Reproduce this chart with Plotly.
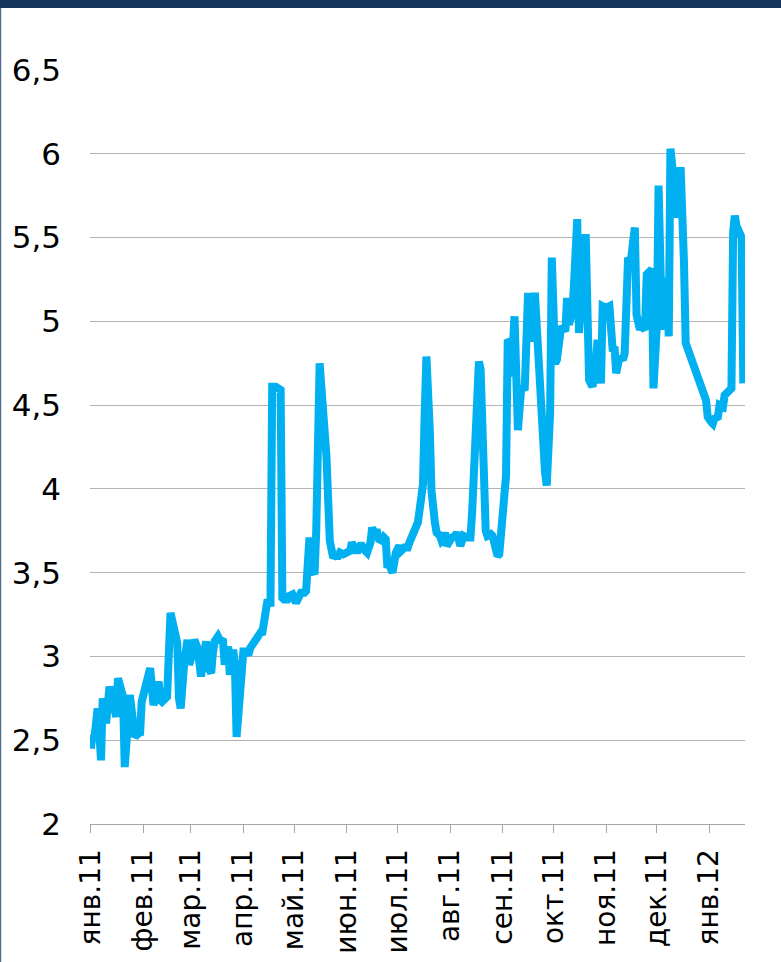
import plotly.graph_objects as go

# daily series, Jan 2011 - Jan 2012
dates = [
    "2011-01-01", "2011-01-02", "2011-01-03", "2011-01-05", "2011-01-06", "2011-01-07", "2011-01-08",
    "2011-01-09", "2011-01-10", "2011-01-12", "2011-01-14", "2011-01-15", "2011-01-16", "2011-01-17",
    "2011-01-19", "2011-01-20", "2011-01-21", "2011-01-23", "2011-01-24", "2011-01-26", "2011-01-27",
    "2011-01-29", "2011-01-30", "2011-01-31", "2011-02-02", "2011-02-05", "2011-02-07", "2011-02-08",
    "2011-02-10", "2011-02-11", "2011-02-12", "2011-02-14", "2011-02-15", "2011-02-17", "2011-02-19",
    "2011-02-21", "2011-02-22", "2011-02-23", "2011-02-25", "2011-02-27", "2011-02-28", "2011-03-02",
    "2011-03-03", "2011-03-05", "2011-03-07", "2011-03-09", "2011-03-10", "2011-03-12", "2011-03-13",
    "2011-03-14", "2011-03-15", "2011-03-17", "2011-03-18", "2011-03-20", "2011-03-21", "2011-03-23",
    "2011-03-24", "2011-03-26", "2011-03-27", "2011-03-28", "2011-03-30", "2011-04-01", "2011-04-02",
    "2011-04-04", "2011-04-05", "2011-04-07", "2011-04-08", "2011-04-10", "2011-04-11", "2011-04-12",
    "2011-04-14", "2011-04-15", "2011-04-17", "2011-04-18", "2011-04-20", "2011-04-21", "2011-04-22",
    "2011-04-23", "2011-04-24", "2011-04-25", "2011-04-27", "2011-04-28", "2011-04-30", "2011-05-02",
    "2011-05-04", "2011-05-05", "2011-05-07", "2011-05-08", "2011-05-10", "2011-05-11", "2011-05-13",
    "2011-05-14", "2011-05-16", "2011-05-20", "2011-05-22", "2011-05-24", "2011-05-25", "2011-05-27",
    "2011-05-28", "2011-05-30", "2011-06-01", "2011-06-03", "2011-06-04", "2011-06-06", "2011-06-07",
    "2011-06-09", "2011-06-10", "2011-06-12", "2011-06-13", "2011-06-15", "2011-06-16", "2011-06-17",
    "2011-06-19", "2011-06-20", "2011-06-22", "2011-06-23", "2011-06-24", "2011-06-25", "2011-06-26",
    "2011-06-28", "2011-06-29", "2011-06-30", "2011-07-02", "2011-07-03", "2011-07-05", "2011-07-07",
    "2011-07-08", "2011-07-10", "2011-07-11", "2011-07-13", "2011-07-15", "2011-07-16", "2011-07-17",
    "2011-07-18", "2011-07-20", "2011-07-21", "2011-07-23", "2011-07-24", "2011-07-26", "2011-07-27",
    "2011-07-28", "2011-07-29", "2011-07-30", "2011-08-01", "2011-08-02", "2011-08-04", "2011-08-05",
    "2011-08-07", "2011-08-08", "2011-08-09", "2011-08-11", "2011-08-12", "2011-08-13", "2011-08-14",
    "2011-08-16", "2011-08-17", "2011-08-18", "2011-08-19", "2011-08-21", "2011-08-22", "2011-08-23",
    "2011-08-25", "2011-08-26", "2011-08-28", "2011-08-29", "2011-08-30", "2011-08-31", "2011-09-01",
    "2011-09-03", "2011-09-04", "2011-09-05", "2011-09-06", "2011-09-08", "2011-09-10", "2011-09-11",
    "2011-09-12", "2011-09-14", "2011-09-16", "2011-09-17", "2011-09-18", "2011-09-20", "2011-09-21",
    "2011-09-23", "2011-09-24", "2011-09-26", "2011-09-27", "2011-09-28", "2011-09-29", "2011-09-30",
    "2011-10-02", "2011-10-03", "2011-10-05", "2011-10-06", "2011-10-08", "2011-10-09", "2011-10-10",
    "2011-10-12", "2011-10-13", "2011-10-15", "2011-10-16", "2011-10-18", "2011-10-20", "2011-10-22",
    "2011-10-24", "2011-10-26", "2011-10-27", "2011-10-29", "2011-10-30", "2011-11-01", "2011-11-03",
    "2011-11-05", "2011-11-06", "2011-11-07", "2011-11-09", "2011-11-11", "2011-11-12", "2011-11-14",
    "2011-11-15", "2011-11-16", "2011-11-18", "2011-11-19", "2011-11-21", "2011-11-22", "2011-11-24",
    "2011-11-25", "2011-11-27", "2011-11-28", "2011-11-29", "2011-11-30", "2011-12-01", "2011-12-02",
    "2011-12-04", "2011-12-05", "2011-12-07", "2011-12-08", "2011-12-09", "2011-12-11", "2011-12-13",
    "2011-12-14", "2011-12-15", "2011-12-17", "2011-12-18", "2011-12-30", "2011-12-31", "2012-01-02",
    "2012-01-03", "2012-01-04", "2012-01-06", "2012-01-07", "2012-01-09", "2012-01-10", "2012-01-12",
    "2012-01-14", "2012-01-15", "2012-01-16", "2012-01-17", "2012-01-19", "2012-01-20", "2012-01-21",
]

values = [
    2.45, 2.53, 2.50, 2.69, 2.55, 2.38, 2.75,
    2.62, 2.60, 2.82, 2.72, 2.66, 2.64, 2.87,
    2.80, 2.76, 2.34, 2.72, 2.77, 2.60, 2.52,
    2.54, 2.53, 2.73, 2.82, 2.93, 2.71, 2.76,
    2.85, 2.74, 2.73, 2.75, 2.76, 3.26, 3.15,
    3.08, 2.75, 2.69, 2.95, 3.10, 2.95, 3.02,
    3.10, 3.05, 2.88, 3.05, 3.09, 2.92, 2.90,
    3.02, 3.09, 3.12, 3.10, 3.09, 2.95, 3.06,
    2.89, 3.04, 2.95, 2.52, 2.85, 3.03, 3.03,
    3.01, 3.05, 3.08, 3.11, 3.12, 3.14, 3.13,
    3.24, 3.32, 3.32, 4.61, 4.61, 4.60, 4.59,
    4.59, 3.35, 3.34, 3.34, 3.36, 3.37, 3.32,
    3.36, 3.38, 3.38, 3.39, 3.71, 3.53, 3.49,
    3.75, 4.75, 4.20, 3.69, 3.59, 3.60, 3.60,
    3.62, 3.61, 3.62, 3.63, 3.68, 3.62, 3.62,
    3.66, 3.66, 3.63, 3.62, 3.68, 3.77, 3.74,
    3.74, 3.70, 3.69, 3.71, 3.70, 3.53, 3.55,
    3.50, 3.60, 3.62, 3.66, 3.63, 3.65, 3.65,
    3.68, 3.74, 3.76, 3.80, 3.95, 4.03, 4.45,
    4.79, 4.35, 3.99, 3.80, 3.74, 3.72, 3.69,
    3.70, 3.74, 3.66, 3.70, 3.71, 3.72, 3.74,
    3.66, 3.70, 3.72, 3.71, 3.71, 3.71, 3.86,
    4.40, 4.76, 4.76, 4.71, 3.85, 3.75, 3.72,
    3.73, 3.72, 3.64, 3.60, 3.61, 3.75, 3.90,
    4.08, 4.89, 4.88, 4.67, 5.03, 4.35, 4.55,
    4.61, 4.59, 5.17, 4.95, 4.88, 5.17, 4.95,
    4.71, 4.33, 4.10, 4.02, 4.17, 4.45, 5.38,
    4.75, 4.77, 4.93, 4.97, 4.94, 5.14, 4.98,
    5.05, 5.20, 5.61, 4.93, 5.20, 5.52, 4.65,
    4.61, 4.75, 4.89, 4.63, 5.09, 5.08, 5.09,
    4.82, 4.85, 4.69, 4.79, 4.77, 4.81, 5.38,
    5.36, 5.39, 5.56, 5.04, 4.95, 4.97, 4.95,
    5.28, 5.30, 5.31, 4.60, 4.80, 4.98, 5.81,
    4.95, 5.10, 5.26, 4.91, 6.03, 5.84, 5.62,
    5.70, 5.92, 5.35, 4.87, 4.53, 4.43, 4.40,
    4.39, 4.42, 4.43, 4.50, 4.49, 4.56, 4.58,
    4.60, 5.53, 5.63, 5.57, 5.53, 5.50, 4.63,
]

month_ticks = ["2011-01-01", "2011-02-01", "2011-03-01", "2011-04-01", "2011-05-01", "2011-06-01",
               "2011-07-01", "2011-08-01", "2011-09-01", "2011-10-01", "2011-11-01", "2011-12-01",
               "2012-01-01"]
month_labels = ["янв.11", "фев.11", "мар.11", "апр.11", "май.11", "июн.11", "июл.11",
                "авг.11", "сен.11", "окт.11", "ноя.11", "дек.11", "янв.12"]

W, H = 781, 962
ML, MR, MT, MB = 90, 36, 70, 138
PW, PH = W - ML - MR, H - MT - MB


def px(x):
    return (x - ML) / PW


def py(y):
    return 1 - (y - MT) / PH


fig = go.Figure()
fig.add_trace(go.Scatter(x=dates, y=values, mode="lines",
                         line=dict(color="#00B0F0", width=8, shape="linear"),
                         hoverinfo="x+y"))

fig.update_layout(
    width=W, height=H,
    margin=dict(l=ML, r=MR, t=MT, b=MB),
    paper_bgcolor="white", plot_bgcolor="white",
    separators=", ",
    showlegend=False,
    font=dict(family="DejaVu Sans, Verdana, sans-serif", color="#000000", size=31),
    shapes=[
        # dark band along the top of the frame
        dict(type="rect", xref="paper", yref="paper", x0=px(0), x1=px(W), y0=py(8), y1=py(0),
             fillcolor="#17365D", line=dict(width=0), layer="above"),
        # thin left frame edge
        dict(type="line", xref="paper", yref="paper", x0=px(0.5), x1=px(0.5), y0=py(H), y1=py(8),
             line=dict(color="#4F6B8F", width=1.5), layer="above"),
    ],
)

fig.update_xaxes(
    type="date", range=["2010-12-31 12:00", "2012-01-22"],
    tickmode="array", tickvals=month_ticks, ticktext=month_labels,
    tickangle=-90, tickfont=dict(size=28),
    ticks="outside", ticklen=8, tickcolor="#A6A6A6", tickwidth=1,
    ticklabelstandoff=5, automargin=False,
    showline=True, linecolor="#A6A6A6", linewidth=1,
    showgrid=False, zeroline=False,
)
fig.update_yaxes(
    range=[2, 6.5], dtick=0.5, tick0=2,
    showgrid=True, gridcolor="#B4B4B4", gridwidth=1,
    showline=False, zeroline=False, ticks="", automargin=False,
    ticklabelstandoff=28, tickfont=dict(size=31),
)

# drop the default page margin so the figure sits at the window's corner
fig.write_html("out.html", config={"displayModeBar": False},
               post_script="document.body.style.margin='0';")
